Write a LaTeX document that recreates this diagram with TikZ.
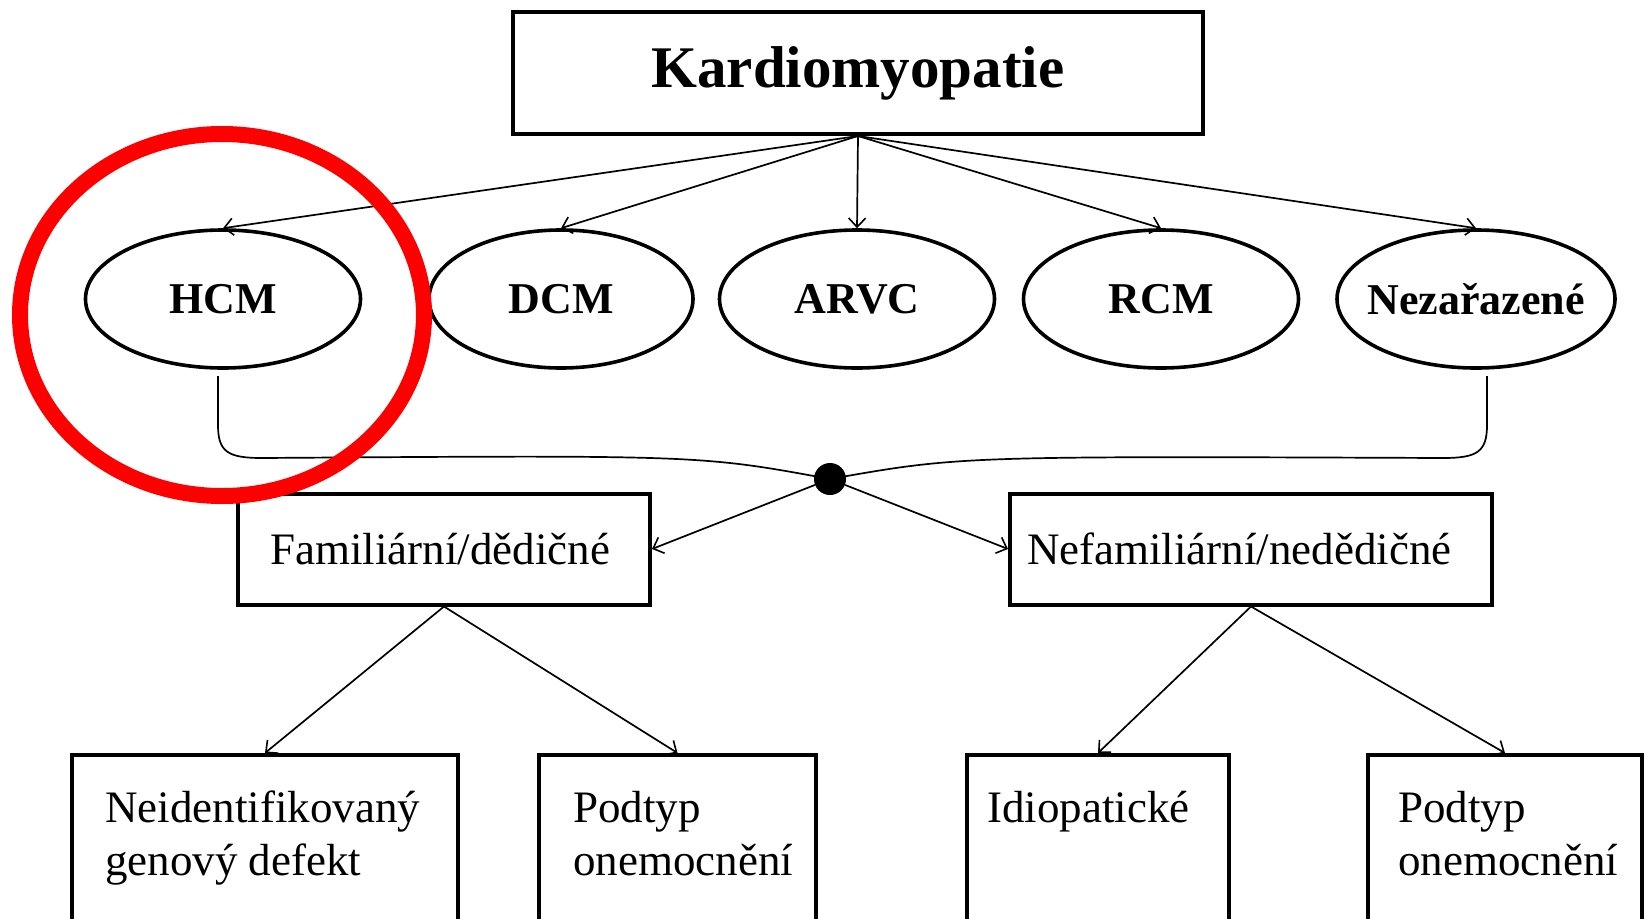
\documentclass[tikz,border=0pt]{standalone}
\usepackage{fontspec}
\setmainfont{Liberation Serif}
\usetikzlibrary{arrows.meta,shapes.geometric}
\begin{document}
\begin{tikzpicture}[x=1pt,y=-1pt,
  box/.style={draw, line width=4pt, rectangle, inner sep=0pt},
  titlebox/.style={box, minimum width=690pt, minimum height=122pt, font=\fontsize{59}{70}\selectfont\bfseries},
  ell/.style={draw, ellipse, line width=3.6pt, inner sep=0pt, minimum width=275pt, minimum height=138pt, font=\fontsize{44}{52}\selectfont\bfseries},
  midbox/.style={box, minimum height=111pt, align=left, font=\fontsize{45}{53}\selectfont},
  lowbox/.style={box, anchor=north, minimum height=200pt},
  btext/.style={anchor=north west, inner sep=0pt, align=left, font=\fontsize{45}{53}\selectfont},
  conn/.style={line width=1.7pt},
  arr/.style={conn, -{Straight Barb[length=9pt,width=17pt,line width=1.6pt]}},
  redmark/.style={draw=red, ellipse, line width=16pt, inner sep=0pt}
]
\useasboundingbox (0,0) rectangle (1645,918);

% title
\node[titlebox] (title) at (858,73) {Kardiomyopatie};

% ellipses
\node[ell] (hcm)  at (223,299) {HCM};
\node[ell, minimum width=264pt] (dcm)  at (561,299) {DCM};
\node[ell] (arvc) at (857,299) {ARVC};
\node[ell] (rcm)  at (1161,299) {RCM};
\node[ell, minimum width=278pt, inner xsep=-14pt] (nez)  at (1476,299) {Nezařazené};

\foreach \e in {hcm,dcm,arvc,rcm,nez}
  \draw[arr] (title.south) -- (\e.north);

% junction dot
\node[circle, fill=black, minimum size=32pt, inner sep=0pt] (dot) at (830,479) {};

% bracket
\coordinate (bl) at (218,376);
\coordinate (br) at (1487,376);
\draw[conn] (bl) -- (218,425) .. controls (218,452) and (228,458) .. (262,458)
  .. controls (700,455) .. (dot.center);
\draw[conn] (br) -- (1487,425) .. controls (1487,452) and (1477,458) .. (1443,458)
  .. controls (960,456) .. (dot.center);

% middle boxes
\node[midbox, text width=348pt, inner xsep=32pt] (fam) at (444,549) {Familiární/dědičné};
\node[midbox, text width=448pt, inner xsep=17pt] (nefam) at (1251,549) {Nefamiliární/nedědičné};

\draw[arr] (dot) -- (fam.east);
\draw[arr] (dot) -- (nefam.west);

% bottom boxes
\node[lowbox, minimum width=386pt] (b1) at (265,753) {};
\node[lowbox, minimum width=277pt] (b2) at (677.5,753) {};
\node[lowbox, minimum width=262pt] (b3) at (1098,753) {};
\node[lowbox, minimum width=274pt] (b4) at (1505,753) {};

\node[btext] (t1) at (105,791) {Neidentifikovaný\\genový defekt};
\node[btext] (t2) at (573,791) {Podtyp\\onemocnění};
\node[btext] (t3) at (987,791) {Idiopatické};
\node[btext] (t4) at (1398,791) {Podtyp\\onemocnění};

\draw[arr] (fam.south) -- (b1.north);
\draw[arr] (fam.south) -- (b2.north);
\draw[arr] (nefam.south) -- (b3.north);
\draw[arr] (nefam.south) -- (b4.north);

% red highlight
\node[redmark, minimum width=404pt, minimum height=362pt] (hl) at (222,315) {};
\end{tikzpicture}
\end{document}
